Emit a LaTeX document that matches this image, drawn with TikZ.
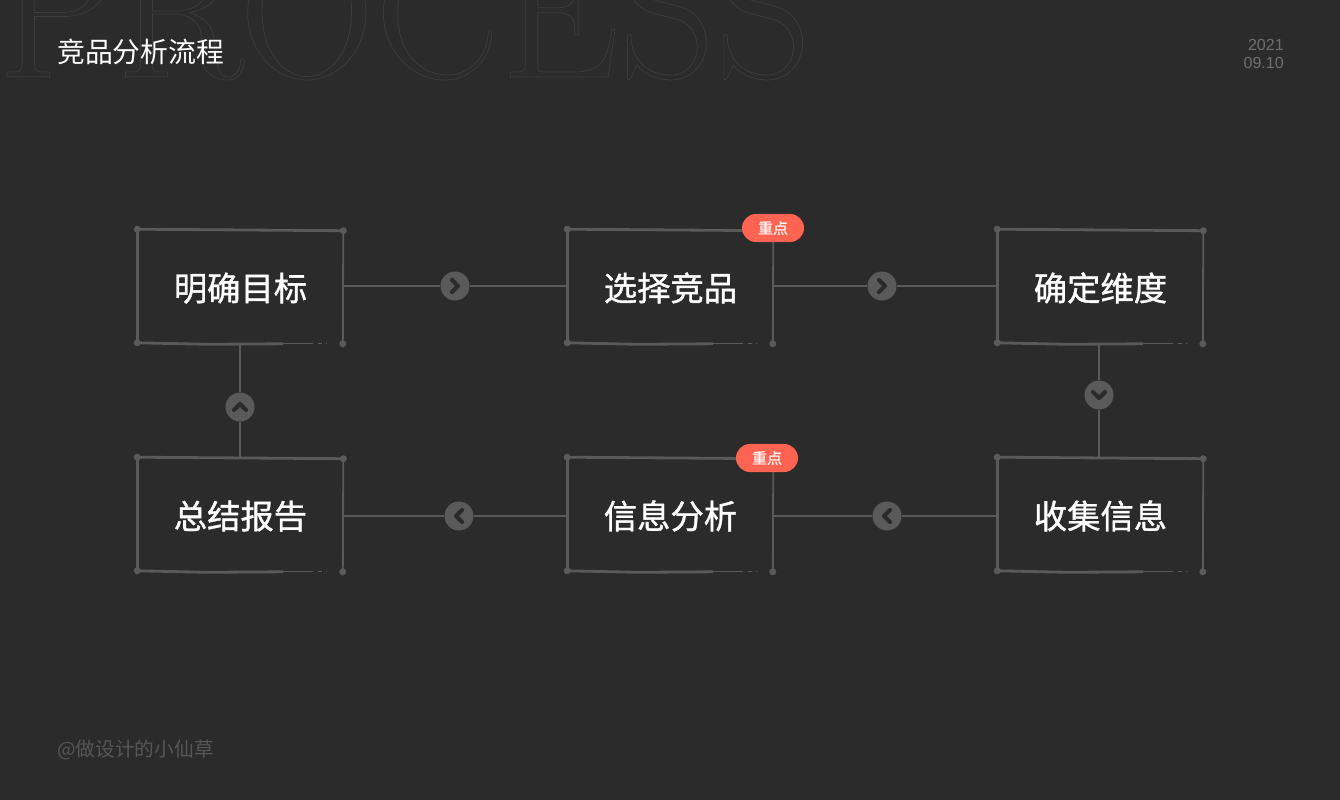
\documentclass[tikz,border=0pt]{standalone}
\usepackage{fontspec}
\setmainfont{Liberation Sans}
\newfontfamily\cjkfont{Noto Sans CJK SC}
\newfontfamily\cjkheavy[FakeBold=1.1]{Noto Sans CJK SC}
\newfontfamily\cjkbadge[FakeBold=0.5]{Noto Sans CJK SC}
\usepackage{tikz}
\usetikzlibrary{calc}
\usetikzlibrary{shapes.misc}
\definecolor{pagebg}{HTML}{2B2B2B}
\definecolor{linegray}{HTML}{5A5A5A}
\definecolor{outlinegray}{HTML}{3D3D3D}
\definecolor{dategray}{HTML}{6F6F6F}
\definecolor{footgray}{HTML}{565656}
\definecolor{badgered}{HTML}{FF6453}

\begin{document}
\begin{tikzpicture}[
    x=0.025cm, y=-0.025cm,
    % step boxes: sketchy outline with a dot on each corner
    stepbox/.style={rectangle, minimum width=5.15cm, minimum height=2.85cm, inner sep=0pt,
        text=white, text height=20.2pt, text depth=0pt,
        font=\cjkheavy\fontsize{23.7}{28}\selectfont,
        append after command={\pgfextra{\let\LN\tikzlastnode
            \draw[rim] (\LN.north west) -- ($(\LN.north east)+(-0.5,1.5)$);
            \draw[rim] (\LN.north west) -- ($(\LN.south west)+(0,-1)$);
            \draw[rim, line width=1.3pt] ($(\LN.north east)+(-0.5,1.5)$) -- ($(\LN.south east)+(-1,0)$);
            \draw[rim] ($(\LN.south west)+(0,-1)$) -- ($(\LN.south west)+(70,0.5)$) -- ($(\LN.south west)+(146,0)$);
            \draw[rim, line width=0.8pt] ($(\LN.south west)+(146,0)$) -- ($(\LN.south west)+(172,0)$);
            \draw[rim, line width=0.5pt, dashed] ($(\LN.south west)+(172,0)$) -- ($(\LN.south west)+(190,0)$);
            \fill[linegray] (\LN.north west) circle[radius=3.5];
            \fill[linegray] ($(\LN.north east)+(-0.5,1.5)$) circle[radius=3.5];
            \fill[linegray] ($(\LN.south west)+(0,-1)$) circle[radius=3.5];
            \fill[linegray] ($(\LN.south east)+(-1,0)$) circle[radius=3.5];
        }}},
    rim/.style={draw=linegray, line width=2pt},
    edge/.style={draw=linegray, line width=1.4pt},
    % round buttons on the connectors, one per direction
    chev/.style={pagebg, line width=3pt, line cap=round, line join=round,
        shift={(path picture bounding box.center)}},
    nextbtn/.style={circle, fill=linegray, minimum size=0.725cm, inner sep=0pt},
    btnright/.style={nextbtn, path picture={\draw[chev] (-3,-6) -- (3,0) -- (-3,6);}},
    btnleft/.style={nextbtn, path picture={\draw[chev] (3,-6) -- (-3,0) -- (3,6);}},
    btnup/.style={nextbtn, path picture={\draw[chev] (-6,3) -- (0,-3) -- (6,3);}},
    btndown/.style={nextbtn, path picture={\draw[chev] (-6,-3) -- (0,3) -- (6,-3);}},
    badge/.style={rounded rectangle, fill=badgered, minimum width=1.55cm, minimum height=0.7cm,
        inner sep=0pt, text=white, font=\cjkbadge\fontsize{10.7}{12}\selectfont},
]

% page
\path[fill=pagebg, use as bounding box] (0,0) rectangle (1340,800);

% =========================================================
% Header and footer
% =========================================================
\node[anchor=base west, inner sep=0pt, text=outlinegray, font=\fontspec{Latin Modern Roman}\fontsize{134}{134}\selectfont] (watermark) at (-3,77)
    {\special{pdf:code 1 Tr 0.5 w 0.24 0.24 0.24 RG}PROCESS\special{pdf:code 0 Tr}};
\node[anchor=west, inner sep=0pt, text=white, font=\cjkfont\fontsize{19.8}{24}\selectfont] (title) at (57,52) {竞品分析流程};
\node[anchor=east, inner sep=0pt, align=right, text=dategray, font=\fontsize{11.4}{12.8}\selectfont] (date) at (1284,53.5) {2021\\09.10};
\node[anchor=west, inner sep=0pt, text=footgray, font=\cjkfont\fontsize{14}{17}\selectfont] (credit) at (57,750) {@做设计的小仙草};

% =========================================================
% Top row
% =========================================================
\node[stepbox] (goal)   at (240.5, 286.5) {明确目标};
\node[stepbox] (pick)   at (670.5, 286.5) {选择竞品};
\node[stepbox] (scope)  at (1100.5,286.5) {确定维度};

% =========================================================
% Bottom row
% =========================================================
\node[stepbox] (report)  at (240.5, 514.5) {总结报告};
\node[stepbox] (analyse) at (670.5, 514.5) {信息分析};
\node[stepbox] (collect) at (1100.5,514.5) {收集信息};

% buttons on the connectors
\node[btnright] (goalpick)  at (455, 286) {};
\node[btnright] (pickscope) at (882, 286) {};
\node[btndown]  (scopecoll) at (1099,395) {};
\node[btnleft]  (collana)   at (887, 516) {};
\node[btnleft]  (anarep)    at (459, 516) {};
\node[btnup]    (repgoal)   at (240, 407) {};

% connectors
\draw[edge] (goal.east |- goalpick) -- (goalpick);
\draw[edge] (goalpick) -- (pick.west |- goalpick);
\draw[edge] (pick.east |- pickscope) -- (pickscope);
\draw[edge] (pickscope) -- (scope.west |- pickscope);
\draw[edge] (scope.south -| scopecoll) -- (scopecoll);
\draw[edge] (scopecoll) -- (collect.north -| scopecoll);
\draw[edge] (collect.west |- collana) -- (collana);
\draw[edge] (collana) -- (analyse.east |- collana);
\draw[edge] (analyse.west |- anarep) -- (anarep);
\draw[edge] (anarep) -- (report.east |- anarep);
\draw[edge] (report.north -| repgoal) -- (repgoal);
\draw[edge] (repgoal) -- (goal.south -| repgoal);

% badges
\node[badge] (keypick)    at (773,228) {重点};
\node[badge] (keyanalyse) at (767,458) {重点};

\end{tikzpicture}
\end{document}
